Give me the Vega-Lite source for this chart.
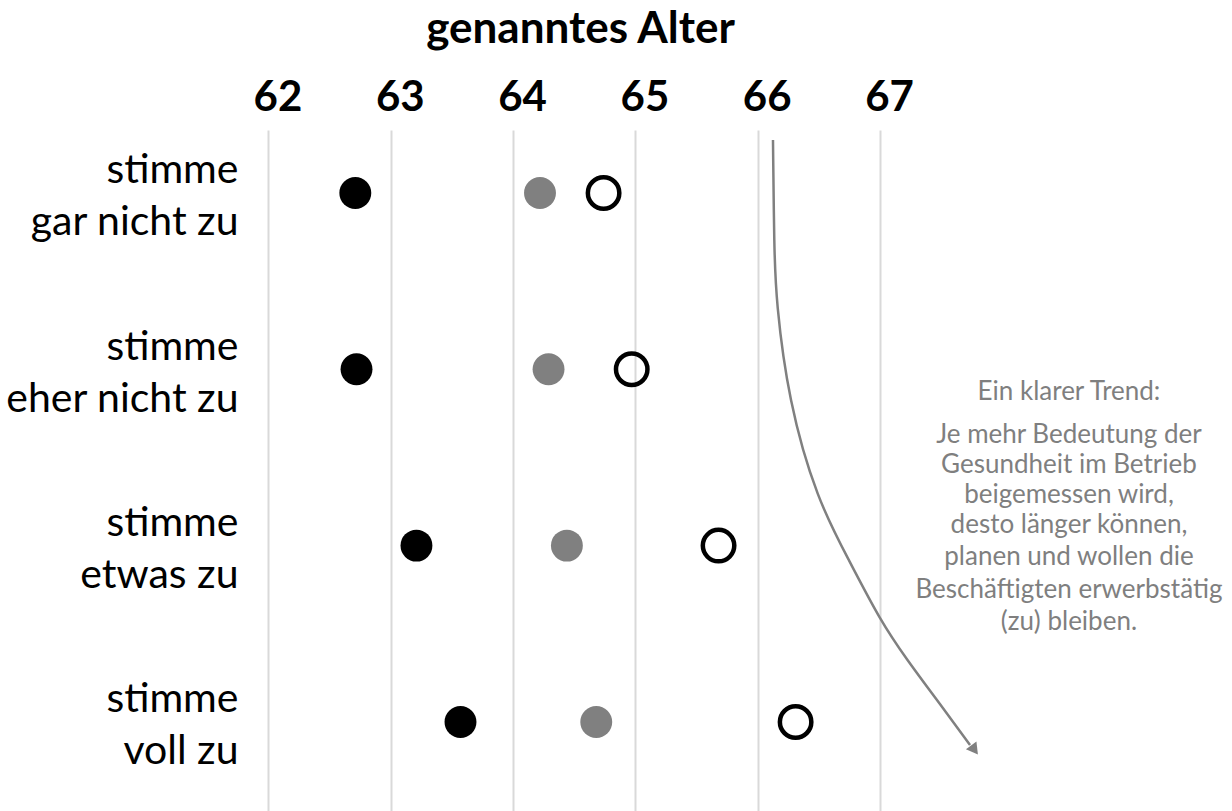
{
  "$schema": "https://vega.github.io/schema/vega-lite/v6.json",
  "width": 954,
  "height": 681,
  "autosize": {"type": "none"},
  "padding": {"left": 244, "top": 130, "right": 34, "bottom": 0},
  "background": "white",
  "config": {"view": {"stroke": null}, "font": "Lato"},
  "datasets": {
    "punkte": [
      {"Aussage": "stimme gar nicht zu", "Gruppe": "können", "Alter": 62.71},
      {"Aussage": "stimme gar nicht zu", "Gruppe": "planen", "Alter": 64.22},
      {"Aussage": "stimme gar nicht zu", "Gruppe": "wollen", "Alter": 64.74},
      {"Aussage": "stimme eher nicht zu", "Gruppe": "können", "Alter": 62.72},
      {"Aussage": "stimme eher nicht zu", "Gruppe": "planen", "Alter": 64.29},
      {"Aussage": "stimme eher nicht zu", "Gruppe": "wollen", "Alter": 64.97},
      {"Aussage": "stimme etwas zu", "Gruppe": "können", "Alter": 63.21},
      {"Aussage": "stimme etwas zu", "Gruppe": "planen", "Alter": 64.44},
      {"Aussage": "stimme etwas zu", "Gruppe": "wollen", "Alter": 65.68},
      {"Aussage": "stimme voll zu", "Gruppe": "können", "Alter": 63.57},
      {"Aussage": "stimme voll zu", "Gruppe": "planen", "Alter": 64.68},
      {"Aussage": "stimme voll zu", "Gruppe": "wollen", "Alter": 66.31}
    ],
    "pfeil": [
      {"i": 1, "x": 66.125, "y": 0.70},
      {"i": 2, "x": 66.135, "y": 1.323},
      {"i": 3, "x": 66.150, "y": 1.607},
      {"i": 4, "x": 66.250, "y": 2.174},
      {"i": 5, "x": 66.485, "y": 2.741},
      {"i": 6, "x": 66.755, "y": 3.093},
      {"i": 7, "x": 67.0, "y": 3.422},
      {"i": 8, "x": 67.221, "y": 3.648},
      {"i": 9, "x": 67.466, "y": 3.875},
      {"i": 10, "x": 67.736, "y": 4.13}
    ],
    "spitze": [
      {"x": 67.773, "y": 4.159}
    ],
    "notiz": [
      {"Text": "Ein klarer Trend:", "x": 68.545, "y": 2.129},
      {"Text": "Je mehr Bedeutung der", "x": 68.545, "y": 2.372},
      {"Text": "Gesundheit im Betrieb", "x": 68.545, "y": 2.543},
      {"Text": "beigemessen wird,", "x": 68.545, "y": 2.713},
      {"Text": "desto länger können,", "x": 68.545, "y": 2.883},
      {"Text": "planen und wollen die", "x": 68.545, "y": 3.064},
      {"Text": "Beschäftigten erwerbstätig", "x": 68.545, "y": 3.252},
      {"Text": "(zu) bleiben.", "x": 68.545, "y": 3.433}
    ]
  },
  "resolve": {"scale": {"y": "independent"}, "axis": {"y": "independent"}},
  "layer": [
    {
      "data": {"name": "punkte"},
      "transform": [{"filter": "datum.Gruppe != 'wollen'"}],
      "mark": {"type": "circle", "size": 1018, "opacity": 1},
      "encoding": {
        "x": {
          "field": "Alter", "type": "quantitative",
          "scale": {"domain": [61.8, 69.6], "nice": false, "zero": false},
          "axis": {
            "orient": "top", "values": [62, 63, 64, 65, 66, 67], "format": "d",
            "grid": true, "gridColor": "#d9d9d9", "gridWidth": 2,
            "domain": false, "ticks": false, "labelOverlap": false, "labelFlush": false,
            "labelFont": "Lato", "labelFontWeight": "bold", "labelFontSize": 42, "labelColor": "#000000",
            "labelBaseline": "alphabetic", "labelPadding": 20, "labelOffset": 9,
            "title": "genanntes Alter", "titleFont": "Lato", "titleFontSize": 44, "titleFontWeight": "bold",
            "titleColor": "#000000", "titleX": 336, "titleY": -88, "titleBaseline": "alphabetic", "titleAlign": "center", "titleAnchor": null
          }
        },
        "y": {
          "field": "Aussage", "type": "ordinal",
          "scale": {"type": "point", "domain": ["stimme gar nicht zu", "stimme eher nicht zu", "stimme etwas zu", "stimme voll zu"], "padding": 0.431, "align": 0.414},
          "axis": {
            "title": null, "domain": false, "ticks": false, "grid": false, "labelOverlap": false, "labelLimit": 400,
            "labelExpr": "['stimme', replace(datum.label, 'stimme ', '')]",
            "labelFont": "Lato", "labelFontSize": 41, "labelLineHeight": 52, "labelColor": "#000000",
            "labelAlign": "right", "labelBaseline": "middle", "labelPadding": 6, "labelOffset": -22
          }
        },
        "color": {
          "field": "Gruppe", "type": "nominal",
          "scale": {"domain": ["können", "planen"], "range": ["#000000", "#808080"]},
          "legend": null
        }
      }
    },
    {
      "data": {"name": "punkte"},
      "transform": [{"filter": "datum.Gruppe == 'wollen'"}],
      "mark": {"type": "point", "shape": "circle", "filled": false, "stroke": "#000000", "strokeWidth": 4.5, "size": 990, "opacity": 1},
      "encoding": {
        "x": {"field": "Alter", "type": "quantitative"},
        "y": {
          "field": "Aussage", "type": "ordinal",
          "scale": {"type": "point", "domain": ["stimme gar nicht zu", "stimme eher nicht zu", "stimme etwas zu", "stimme voll zu"], "padding": 0.431, "align": 0.414},
          "axis": null
        }
      }
    },
    {
      "data": {"name": "pfeil"},
      "mark": {"type": "line", "color": "#808080", "strokeWidth": 2.5, "interpolate": "basis"},
      "encoding": {
        "x": {"field": "x", "type": "quantitative"},
        "y": {"field": "y", "type": "quantitative", "scale": {"domain": [0.6427, 4.5048], "reverse": true, "nice": false, "zero": false}, "axis": null},
        "order": {"field": "i", "type": "quantitative"}
      }
    },
    {
      "data": {"name": "spitze"},
      "mark": {"type": "point", "shape": "triangle-down", "filled": true, "color": "#808080", "size": 170, "angle": 323.5, "opacity": 1},
      "encoding": {
        "x": {"field": "x", "type": "quantitative"},
        "y": {"field": "y", "type": "quantitative", "scale": {"domain": [0.6427, 4.5048], "reverse": true, "nice": false, "zero": false}, "axis": null}
      }
    },
    {
      "data": {"name": "notiz"},
      "mark": {"type": "text", "font": "Lato", "fontSize": 26, "color": "#7f7f7f", "align": "center", "baseline": "middle"},
      "encoding": {
        "x": {"field": "x", "type": "quantitative"},
        "y": {"field": "y", "type": "quantitative", "scale": {"domain": [0.6427, 4.5048], "reverse": true, "nice": false, "zero": false}, "axis": null},
        "text": {"field": "Text", "type": "nominal"}
      }
    }
  ]
}
